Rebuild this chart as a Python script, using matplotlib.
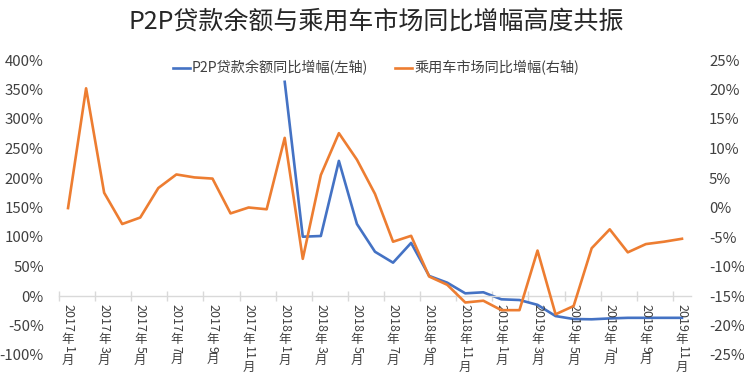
import numpy as np
import matplotlib
matplotlib.use('Agg')
import matplotlib.pyplot as plt
from matplotlib.ticker import FuncFormatter

plt.rcParams['font.family'] = ['Noto Sans CJK SC', 'DejaVu Sans']

# monthly categories 2017-01 .. 2019-11
months = [f'{y}年{m}月' for y in (2017, 2018, 2019) for m in range(1, 13)][:35]

# P2P loan balance YoY growth (%), left axis, starts 2018-01
p2p = [np.nan] * 12 + [
    363, 100.5, 101.7, 229, 122, 75, 56.5, 90, 34, 22.6, 4.5, 6.3,
    -5.6, -6.8, -15, -34, -39, -39.5, -38, -37, -37, -37, -37,
]

# passenger car market YoY growth (%), right axis
car = [
    -0.1, 20.2, 2.5, -2.8, -1.7, 3.3, 5.6, 5.1, 4.9, -1.0, 0.0, -0.3,
    11.8, -8.7, 5.5, 12.6, 8.1, 2.3, -5.8, -4.8, -11.7, -13.1, -16.1, -15.8,
    -17.4, -17.4, -7.3, -18.1, -16.7, -6.9, -3.7, -7.6, -6.2, -5.8, -5.3,
]

title = 'P2P贷款余额与乘用车市场同比增幅高度共振'
label_p2p = 'P2P贷款余额同比增幅(左轴)'
label_car = '乘用车市场同比增幅(右轴)'

text_color = '#404040'
grid_color = '#d9d9d9'

fig = plt.figure(figsize=(7.44, 3.92), dpi=100)
ax = fig.add_axes([59 / 744, 1 - 355 / 392, (691 - 59) / 744, (355 - 60) / 392])
ax2 = ax.twinx()

x = np.arange(len(months))
l1, = ax.plot(x, p2p, color='#4472C4', lw=1.9, label=label_p2p)
l2, = ax2.plot(x, car, color='#ED7D31', lw=1.9, label=label_car)

ax.set_xlim(-0.5, len(months) - 0.5)
ax.set_ylim(-100, 400)
ax.set_yticks(range(-100, 401, 50))
ax2.set_ylim(-25, 25)
ax2.set_yticks(range(-25, 26, 5))
pct = FuncFormatter(lambda v, p: f'{v:.0f}%')
ax.yaxis.set_major_formatter(pct)
ax2.yaxis.set_major_formatter(pct)

for a in (ax, ax2):
    for s in a.spines.values():
        s.set_visible(False)
ax.spines['bottom'].set_visible(True)
ax.spines['bottom'].set_position(('data', 0))
ax.spines['bottom'].set_color(grid_color)
ax.spines['bottom'].set_linewidth(1)

ax.set_xticks(np.arange(-0.5, len(months) - 1, 2))
ax.set_xticklabels([])
ax.tick_params(axis='x', direction='inout', length=7, width=1, color=grid_color)
ax.tick_params(axis='y', length=0, pad=11, labelsize=10.8, labelcolor=text_color)
ax2.tick_params(axis='y', length=0, pad=13, labelsize=10.8, labelcolor=text_color)

fig.text(376 / 744, 1 - 22 / 392, title, ha='center', va='center',
         fontsize=18, color='#262626')

fig.legend(handles=[l1, l2], loc='center', bbox_to_anchor=(376 / 744, 1 - 68 / 392),
           ncol=2, frameon=False, handlelength=1.2, handletextpad=0.15,
           columnspacing=1.9, fontsize=10.2, labelcolor=text_color)

# vertical month labels: digits turned, CJK upright
renderer = fig.canvas.get_renderer()


def split_runs(s):
    runs = []
    for ch in s:
        if runs and ch.isdigit() and runs[-1][-1].isdigit():
            runs[-1] += ch
        else:
            runs.append(ch)
    return runs


for i in range(0, len(months), 2):
    cur = -6
    for piece in split_runs(months[i]):
        rot = -90 if piece.isdigit() else 0
        t = ax.annotate(piece, xy=(i, 0), xycoords='data', xytext=(0, cur),
                        textcoords='offset points', ha='center', va='top',
                        rotation=rot, fontsize=9, color=text_color,
                        annotation_clip=False)
        h = t.get_window_extent(renderer).height * 72 / fig.dpi
        cur -= h + 0.3

fig.savefig('out.png', dpi=100)
